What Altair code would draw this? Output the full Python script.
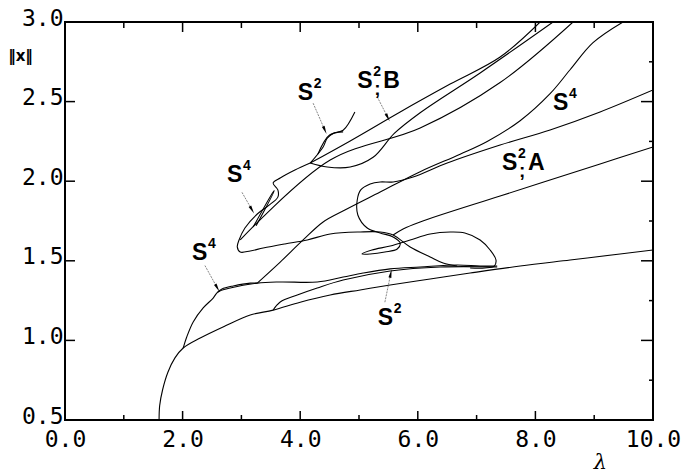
import altair as alt
import pandas as pd
import numpy as np

# ---------------- data (lambda, ||x||) ----------------
curves = {
    "primary": (
        [1.60, 1.61, 1.66, 1.75, 1.87, 2.01, 2.30, 2.72, 3.15, 3.54, 4.00, 4.51, 5.02, 5.53, 6.21, 6.89, 7.74, 8.59, 9.44, 10.0],
        [0.50, 0.59, 0.69, 0.80, 0.89, 0.952, 1.015, 1.09, 1.16, 1.19, 1.24, 1.285, 1.317, 1.348, 1.386, 1.423, 1.467, 1.505, 1.543, 1.568],
    ),
    "p2": (
        [2.01, 2.07, 2.18, 2.35, 2.52, 2.60, 2.81, 3.27, 3.66, 4.29, 4.73, 5.07, 5.53, 6.04, 6.67, 7.06, 7.35],
        [0.952, 1.021, 1.116, 1.204, 1.266, 1.304, 1.329, 1.36, 1.367, 1.367, 1.398, 1.423, 1.449, 1.461, 1.474, 1.467, 1.467],
    ),
    "s4loop": (
        [2.60, 2.67, 2.86, 3.15, 3.27],
        [1.304, 1.323, 1.342, 1.36, 1.36],
    ),
    "s2bubble": (
        [3.54, 3.66, 3.95, 4.29, 4.73, 5.53, 6.38, 7.35],
        [1.191, 1.241, 1.285, 1.329, 1.379, 1.436, 1.461, 1.461],
    ),
    "s4curve": (
        [3.27, 3.66, 4.05, 4.39, 4.76, 5.36, 6.04, 6.72, 7.18, 7.74, 8.25, 8.59, 8.98, 9.49],
        [1.36, 1.492, 1.631, 1.744, 1.819, 1.932, 2.06, 2.17, 2.25, 2.38, 2.55, 2.70, 2.87, 3.0],
    ),
    "q": (
        [4.17, 3.91, 3.66, 3.54, 3.62, 3.62, 3.45, 3.27, 3.06, 2.96, 2.93, 2.98, 3.15, 3.37, 3.74, 4.12, 4.51, 5.02, 5.36, 5.58, 5.87, 6.21, 6.43, 6.67],
        [2.114, 2.07, 2.02, 1.989, 1.945, 1.90, 1.844, 1.794, 1.706, 1.631, 1.587, 1.555, 1.562, 1.58, 1.606, 1.631, 1.668, 1.681, 1.681, 1.662, 1.587, 1.524, 1.486, 1.467],
    ),
    "scurve": (
        [10.0, 9.10, 8.25, 7.40, 6.50, 5.92, 5.58, 5.36, 5.19, 5.03, 4.97, 4.98, 5.14, 5.36, 5.58, 5.70, 5.65, 5.44, 5.19, 5.05, 5.22, 5.53, 5.87, 6.21, 6.55, 6.80, 7.06, 7.23, 7.33, 7.30, 7.14, 6.89],
        [2.573, 2.435, 2.322, 2.227, 2.114, 2.026, 1.995, 1.995, 1.982, 1.945, 1.882, 1.788, 1.706, 1.675, 1.65, 1.612, 1.574, 1.555, 1.543, 1.543, 1.568, 1.593, 1.631, 1.668, 1.681, 1.675, 1.631, 1.568, 1.505, 1.467, 1.455, 1.455],
    ),
    "s2a_low": (
        [5.58, 5.75, 6.04, 7.40, 9.10, 10.0],
        [1.662, 1.70, 1.744, 1.907, 2.108, 2.215],
    ),
    "s2b_up": (
        [4.17, 4.85, 5.70, 6.55, 7.40, 8.08],
        [2.114, 2.253, 2.435, 2.61, 2.78, 3.0],
    ),
    "s2b_low": (
        [4.17, 4.46, 4.85, 5.24, 5.60, 6.04, 7.06, 8.30],
        [2.114, 2.089, 2.089, 2.15, 2.30, 2.43, 2.68, 3.0],
    ),
    "long": (
        [2.98, 4.51, 6.04, 7.40, 8.64],
        [1.631, 2.133, 2.334, 2.62, 3.0],
    ),
    "s2top": (
        [4.17, 4.39, 4.46, 4.56, 4.73, 4.93],
        [2.114, 2.215, 2.27, 2.30, 2.32, 2.435],
    ),
    "s2top_b": (
        [4.30, 4.50, 4.73],
        [2.17, 2.29, 2.31],
    ),
    "s4narrow": (
        [3.20, 3.54, 3.56, 3.25],
        [1.712, 1.932, 1.94, 1.72],
    ),
}

# labels: "S" (left edge, baseline), superscript digit, ";" and a trailing letter
label_sup = ["2", "2", "4", "2", "4", "4", "2"]
label_semi = ["", ";", "", ";", "", "", ""]
label_tail = ["", "B", "", "A", "", "", ""]
label_lam = [3.96, 4.97, 8.30, 7.43, 2.755, 2.16, 5.32]
label_norm = [2.51, 2.585, 2.447, 2.07, 1.995, 1.505, 1.097]

arrow_lam0 = [4.22, 5.31, 3.01, 2.38, 5.44]
arrow_norm0 = [2.49, 2.53, 1.93, 1.47, 1.24]
arrow_lam1 = [4.42, 5.49, 3.18, 2.59, 5.54]
arrow_norm1 = [2.32, 2.40, 1.82, 1.33, 1.42]

x_major = [0, 2, 4, 6, 8, 10]
x_minor = [1, 3, 5, 7, 9]
y_labels = [0.5, 1.0, 1.5, 2.0, 2.5, 3.0]
y_major = [1.0, 1.5, 2.0, 2.5]
y_minor = [0.75, 1.25, 1.75, 2.25, 2.75]

# ---------------- build tables ----------------
W, H = 588, 398
rows = []
for name, (xs_, ys_) in curves.items():
    for i, (a, b) in enumerate(zip(xs_, ys_)):
        rows.append({"curve": name, "i": i, "lam": a, "norm": b})
df = pd.DataFrame(rows)

arows = []
heads = []
for k in range(len(arrow_lam0)):
    arows.append({"a": k, "i": 0, "lam": arrow_lam0[k], "norm": arrow_norm0[k]})
    arows.append({"a": k, "i": 1, "lam": arrow_lam1[k], "norm": arrow_norm1[k]})
    dx = (arrow_lam1[k] - arrow_lam0[k]) * W / 10
    dy = -(arrow_norm1[k] - arrow_norm0[k]) * H / 2.5
    ang = float(np.degrees(np.arctan2(dx, -dy))) % 360
    heads.append({"lam": arrow_lam1[k], "norm": arrow_norm1[k], "ang": ang})
adf = pd.DataFrame(arows)
hdf = pd.DataFrame(heads)
ldf = pd.DataFrame({"lam": label_lam, "norm": label_norm, "m": ["S"] * len(label_lam),
                    "s": label_sup, "c": label_semi, "t": label_tail})

xs = alt.Scale(domain=[0, 10], nice=False, zero=False)
ys = alt.Scale(domain=[0.5, 3.0], nice=False, zero=False)

xaxis = alt.Axis(values=x_major, format=".1f", labelFont="DejaVu Sans Mono", labelFontSize=23,
                 labelColor="black", ticks=False, domain=False, grid=False, labelPadding=8,
                 labelFlush=False,
                 title="λ", titleFont="DejaVu Serif", titleFontStyle="italic", titleFontWeight="normal",
                 titleFontSize=21, titleColor="black", titleX=535, titleY=48, titleBaseline="alphabetic")
yaxis = alt.Axis(values=y_labels, format=".1f", labelFont="DejaVu Sans Mono",
                 labelFontSize=23, labelColor="black", ticks=False, domain=False, grid=False,
                 labelPadding=2, labelBaseline="alphabetic", labelOffset=3, labelFlush=False,
                 title="‖x‖", titleAngle=0, titleFont="DejaVu Sans", titleFontWeight="bold",
                 titleFontSize=15, titleColor="black", titleX=-45, titleY=38, titleAlign="center",
                 titleBaseline="alphabetic")

lines = alt.Chart(df).mark_line(color="black", strokeWidth=1.1, clip=True,
                                interpolate="catmull-rom").encode(
    x=alt.X("lam:Q", scale=xs, axis=xaxis),
    y=alt.Y("norm:Q", scale=ys, axis=yaxis),
    detail="curve:N",
    order="i:Q",
)

shafts = alt.Chart(adf).mark_line(color="#666", strokeWidth=0.8, strokeDash=[2, 1]).encode(
    x=alt.X("lam:Q", scale=xs), y=alt.Y("norm:Q", scale=ys), detail="a:N", order="i:Q")
arrowheads = alt.Chart(hdf).mark_point(shape="M0,-1L0.35,1L-0.35,1Z", filled=True, color="black",
                                        size=70, opacity=1).encode(
    x=alt.X("lam:Q", scale=xs), y=alt.Y("norm:Q", scale=ys), angle=alt.Angle("ang:Q", scale=None))

tstyle = dict(font="Liberation Sans", fontWeight="bold", color="black", align="left", baseline="alphabetic")
pos = dict(x=alt.X("lam:Q", scale=xs), y=alt.Y("norm:Q", scale=ys))
lab_s = alt.Chart(ldf).mark_text(fontSize=23, **tstyle).encode(text="m:N", **pos)
lab_sup = alt.Chart(ldf).mark_text(fontSize=14, dx=16, dy=-12, **tstyle).encode(text="s:N", **pos)
lab_semi = alt.Chart(ldf).mark_text(fontSize=19, dx=17, dy=7, **tstyle).encode(text="c:N", **pos)
lab_tail = alt.Chart(ldf).mark_text(fontSize=23, dx=26, **tstyle).encode(text="t:N", **pos)

tk = dict(color="black", strokeWidth=1.5)
bmaj = alt.Chart(pd.DataFrame({"lam": x_major})).mark_rule(**tk).encode(
    x=alt.X("lam:Q", scale=xs), y=alt.value(H), y2=alt.value(H - 9))
bmin = alt.Chart(pd.DataFrame({"lam": x_minor})).mark_rule(**tk).encode(
    x=alt.X("lam:Q", scale=xs), y=alt.value(H), y2=alt.value(H - 5))
tmaj = alt.Chart(pd.DataFrame({"lam": x_major})).mark_rule(**tk).encode(
    x=alt.X("lam:Q", scale=xs), y=alt.value(0), y2=alt.value(10))
tmin = alt.Chart(pd.DataFrame({"lam": x_minor})).mark_rule(**tk).encode(
    x=alt.X("lam:Q", scale=xs), y=alt.value(0), y2=alt.value(6))
lmaj = alt.Chart(pd.DataFrame({"norm": y_major})).mark_rule(**tk).encode(
    y=alt.Y("norm:Q", scale=ys), x=alt.value(0), x2=alt.value(10))
rmaj = alt.Chart(pd.DataFrame({"norm": y_major})).mark_rule(**tk).encode(
    y=alt.Y("norm:Q", scale=ys), x=alt.value(W), x2=alt.value(W - 12))
rmin = alt.Chart(pd.DataFrame({"norm": y_minor})).mark_rule(**tk).encode(
    y=alt.Y("norm:Q", scale=ys), x=alt.value(W), x2=alt.value(W - 4))

chart = alt.layer(lines, shafts, arrowheads, lab_s, lab_sup, lab_semi, lab_tail,
                  bmaj, bmin, tmaj, tmin, lmaj, rmaj, rmin).properties(
    width=W, height=H,
    autosize=alt.AutoSizeParams(type="none"),
    padding={"left": 65, "top": 22, "right": 32, "bottom": 55},
    background="white",
).configure_view(stroke="black", strokeWidth=2)

chart.save("out.html", embed_options={"renderer": "svg", "actions": False})
